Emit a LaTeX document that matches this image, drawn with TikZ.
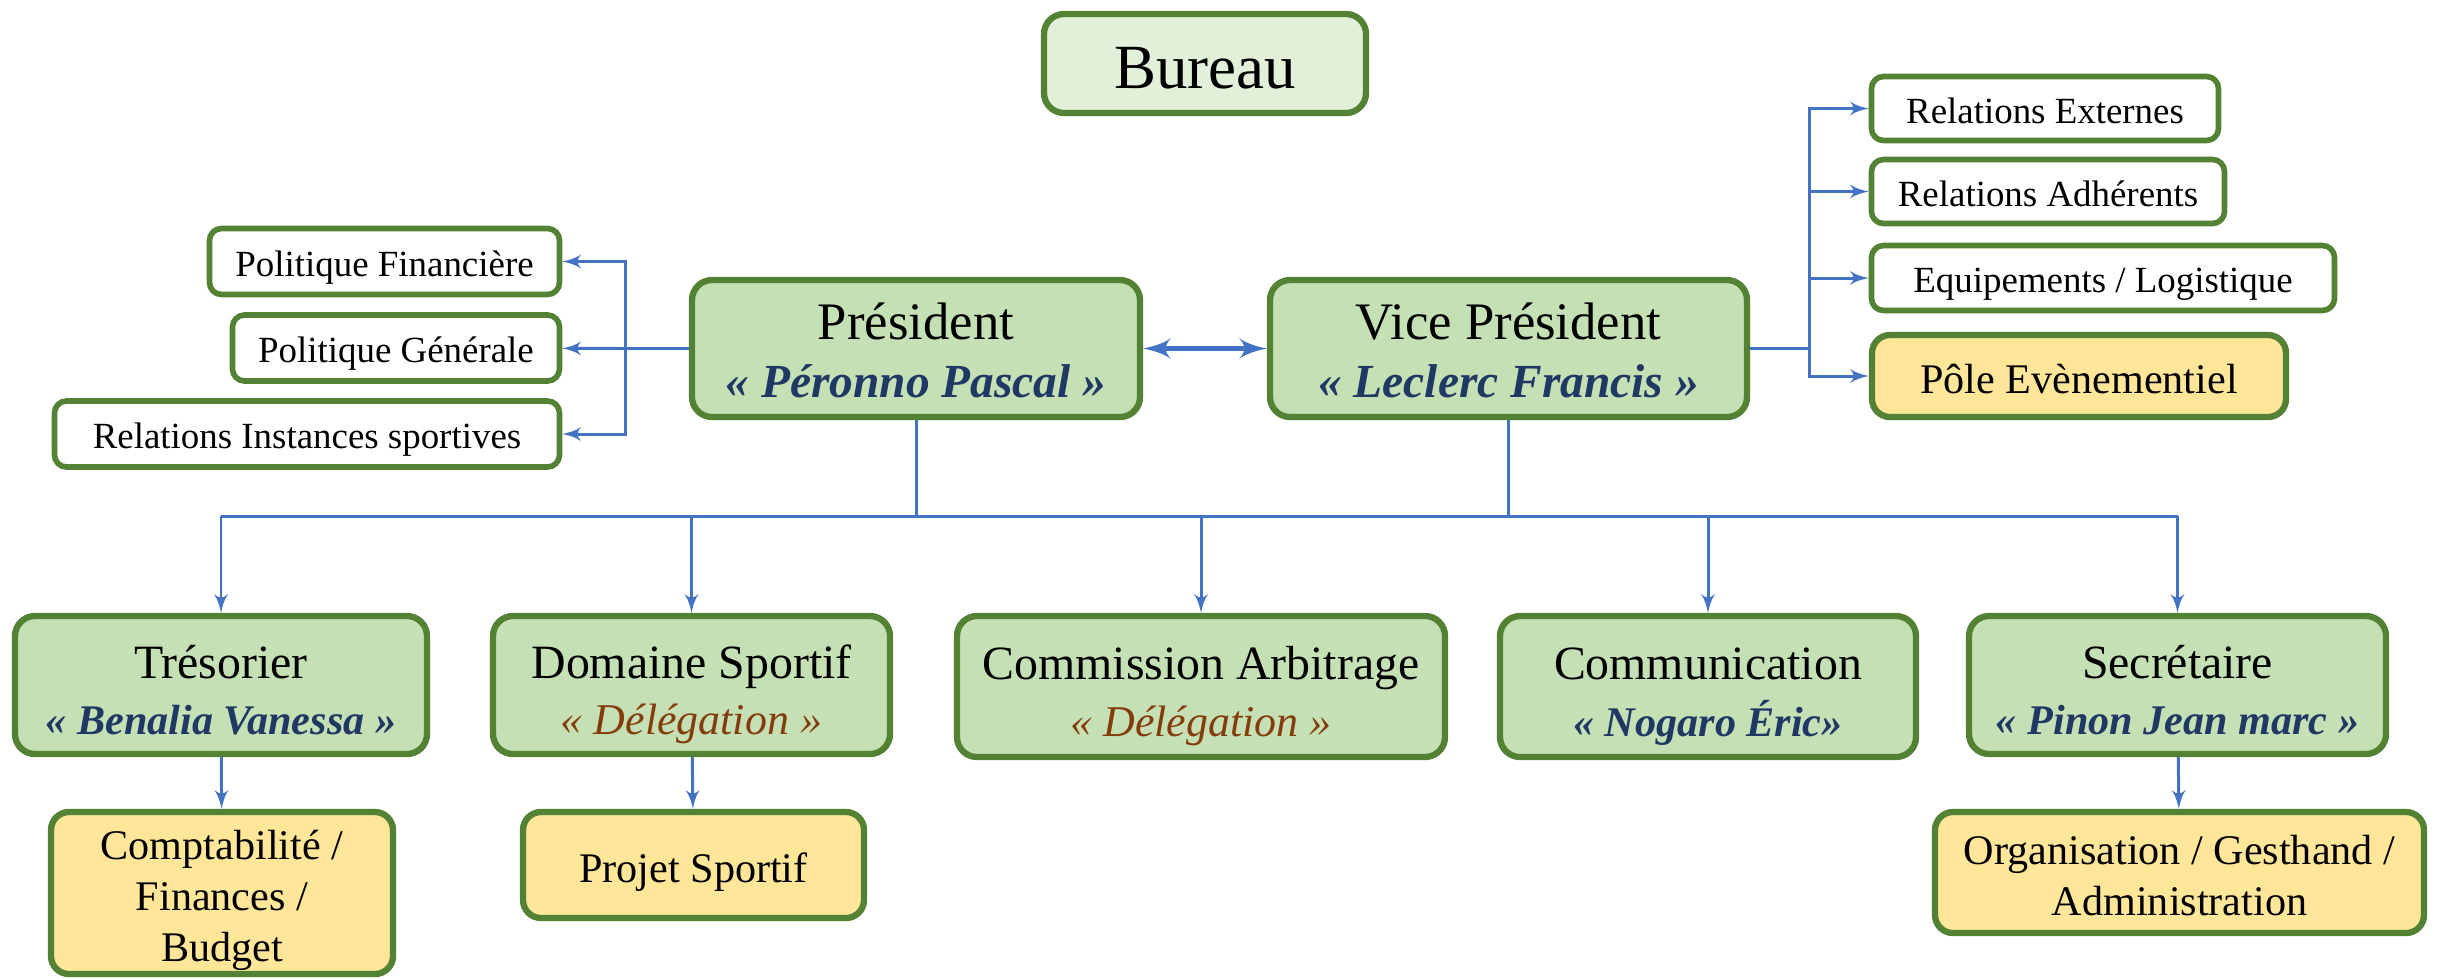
\documentclass[tikz,border=0pt]{standalone}
\usepackage{fontspec}
\setmainfont{Liberation Serif}
\usepackage{tikz}
\usetikzlibrary{arrows,positioning}
\definecolor{vertbord}{HTML}{548235}
\definecolor{vertfond}{HTML}{C5E0B4}
\definecolor{vertclair}{HTML}{E2F0D9}
\definecolor{jaune}{HTML}{FFE699}
\definecolor{bleutrait}{HTML}{4472C4}
\definecolor{bleunom}{HTML}{1F3864}
\definecolor{brun}{HTML}{843C0C}
\newcommand{\nom}[1]{{\fontsize{12}{16}\selectfont\bfseries\itshape\color{bleunom}#1}}
\newcommand{\deleg}[1]{{\fontsize{12.5}{16}\selectfont\itshape\color{brun}#1}}

\begin{document}
\begin{tikzpicture}[
    >=latex',
    poste/.style={
		rectangle,
		rounded corners=0.2cm,
		draw=vertbord,
		line width=1.8pt,
		fill=vertfond,
		text centered,
		inner sep=0pt,
		text height=22.5pt,
		text depth=9.5pt,
		font=\fontsize{13.6}{16}\selectfont
	},
	chef/.style={
		poste,
		minimum height=1.37cm,
		text height=22.45pt,
		text depth=10.55pt,
		font=\fontsize{15}{16.5}\selectfont
	},
	mission/.style={
		rectangle,
		rounded corners=0.12cm,
		draw=vertbord,
		line width=1.6pt,
		fill=white,
		inner sep=0pt,
		minimum height=0.66cm,
		text height=8.4pt,
		text depth=0pt,
		font=\fontsize{10.5}{12}\selectfont
	},
	pole/.style={
		rectangle,
		rounded corners=0.18cm,
		draw=vertbord,
		line width=1.8pt,
		fill=jaune,
		text centered,
		inner sep=0pt,
		text height=10pt,
		text depth=0pt,
		font=\fontsize{12}{14.5}\selectfont
	},
	lien/.style={
		draw=bleutrait,
		line width=0.85pt
	}
  ]
  \useasboundingbox (0,0) rectangle (24.51,-9.78);

    % Bureau et direction
  \node [poste, fill=vertclair, minimum width=3.22cm, minimum height=0.99cm,
    text height=14.4pt, text depth=0pt,
    font=\fontsize{17.9}{20}\selectfont] (bureau) at (12.05,-0.635) {Bureau};

  \node [chef, minimum width=4.48cm] (pres) at (9.16,-3.485)
 {%
 \begin{tabular}{@{}c@{}}
  Président\\
  {\fontsize{13.5}{16.5}\selectfont\bfseries\itshape\color{bleunom}« Péronno Pascal »}
 \end{tabular}
 };

  \node [chef, minimum width=4.77cm] (vp) at (15.085,-3.485)
 {%
 \begin{tabular}{@{}c@{}}
  Vice Président\\
  {\fontsize{13.5}{16.5}\selectfont\bfseries\itshape\color{bleunom}« Leclerc Francis »}
 \end{tabular}
 };

    % missions du président
  \node [mission, minimum width=3.5cm] (pf) at (3.845,-2.615) {Politique Financière};
  \node [mission, minimum width=3.27cm] (pg) at (3.96,-3.48) {Politique Générale};
  \node [mission, minimum width=5.05cm] (ris) at (3.07,-4.34) {Relations Instances sportives};

    % missions du vice président
  \node [mission, minimum width=3.47cm, minimum height=0.64cm] (re) at (20.45,-1.085) {Relations Externes};
  \node [mission, minimum width=3.53cm, minimum height=0.64cm] (ra) at (20.48,-1.915) {Relations Adhérents};
  \node [mission, minimum width=4.63cm, minimum height=0.65cm] (el) at (21.03,-2.78) {Equipements / Logistique};
  \node [pole, minimum width=4.14cm, minimum height=0.82cm] (pe) at (20.79,-3.76) {Pôle Evènementiel};

    % postes
  \node [poste, minimum width=4.12cm, minimum height=1.38cm] (tres) at (2.21,-6.85)
 {%
 \begin{tabular}{@{}c@{}}
  Trésorier\\
  \nom{« Benalia Vanessa »}
 \end{tabular}
 };

  \node [poste, minimum width=3.97cm, minimum height=1.38cm] (dom) at (6.915,-6.85)
 {%
 \begin{tabular}{@{}c@{}}
  Domaine Sportif\\
  \deleg{« Délégation »}
 \end{tabular}
 };

  \node [poste, minimum width=4.88cm, minimum height=1.41cm] (comm) at (12.01,-6.865)
 {%
 \begin{tabular}{@{}c@{}}
  Commission Arbitrage\\
  \deleg{« Délégation »}
 \end{tabular}
 };

  \node [poste, minimum width=4.16cm, minimum height=1.41cm] (comu) at (17.08,-6.865)
 {%
 \begin{tabular}{@{}c@{}}
  Communication\\
  \nom{« Nogaro Éric»}
 \end{tabular}
 };

  \node [poste, minimum width=4.17cm, minimum height=1.38cm] (secr) at (21.775,-6.85)
 {%
 \begin{tabular}{@{}c@{}}
  Secrétaire\\
  \nom{« Pinon Jean marc »}
 \end{tabular}
 };

    % pôles
  \node [pole, minimum width=3.42cm, minimum height=1.62cm,
    text height=26.95pt, text depth=16.55pt] (compta) at (2.22,-8.93)
 {%
 \begin{tabular}{@{}c@{}}
  Comptabilité /\\
  Finances /\\
  Budget
 \end{tabular}
 };

  \node [pole, minimum width=3.41cm, minimum height=1.06cm] (projet) at (6.935,-8.65) {Projet Sportif};

  \node [pole, minimum width=4.89cm, minimum height=1.21cm,
    text height=19.7pt, text depth=9.3pt] (orga) at (21.795,-8.725)
 {%
 \begin{tabular}{@{}c@{}}
  Organisation / Gesthand /\\
  Administration
 \end{tabular}
 };

    % liaisons
  \coordinate (gauche) at (6.25,-3.485);
  \coordinate (droite) at (18.09,-3.485);
  \coordinate (bus) at (0,-5.16);

  \draw [lien] (pres) -- (gauche);
  \draw [lien,->] (gauche) |- (pf);
  \draw [lien,->] (gauche) -- (pg);
  \draw [lien,->] (gauche) |- (ris);

  \draw [lien, line width=1.7pt, <->] (pres) -- (vp);

  \draw [lien] (vp) -- (droite);
  \foreach \m in {re,ra,el,pe}
    \draw [lien,->] (droite) |- (\m);

  \draw [lien] (pres) -- (pres |- bus);
  \draw [lien] (vp) -- (vp |- bus);
  \draw [lien] (tres |- bus) -- (secr |- bus);
  \foreach \p in {tres,dom,comm,comu,secr}
    \draw [lien,->] (\p |- bus) -- (\p);

  \draw [lien,->] (tres) -- (compta);
  \draw [lien,->] (dom) -- (projet);
  \draw [lien,->] (secr) -- (orga);

\end{tikzpicture}
\end{document}
